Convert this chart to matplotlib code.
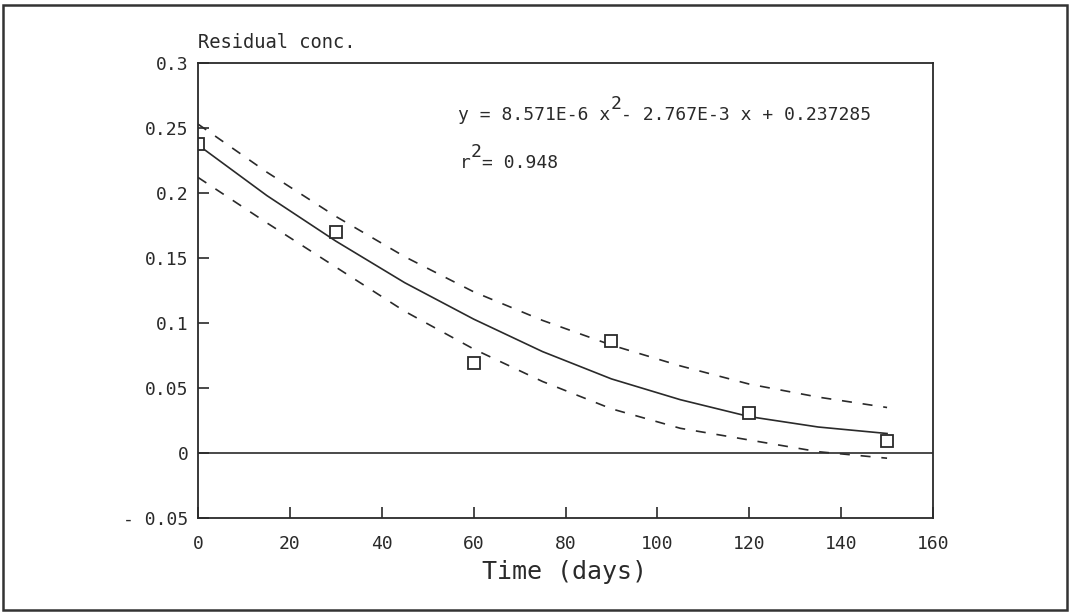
import matplotlib
matplotlib.use("Agg")
import matplotlib.pyplot as plt
from matplotlib.patches import Rectangle

plt.rcParams['font.family'] = ['DejaVu Sans Mono', 'DejaVu Sans']

# measured residual concentration
days = [0, 30, 60, 90, 120, 150]
conc = [0.238, 0.170, 0.069, 0.086, 0.031, 0.009]

# fitted curve and confidence band
fit_x = [0, 15, 30, 45, 60, 75, 90, 105, 120, 135, 150]
fit_y = [0.237, 0.198, 0.163, 0.131, 0.103, 0.078, 0.057, 0.041, 0.028, 0.020, 0.015]
upper_y = [0.253, 0.216, 0.182, 0.151, 0.124, 0.102, 0.083, 0.067, 0.053, 0.043, 0.035]
lower_y = [0.212, 0.177, 0.143, 0.109, 0.080, 0.055, 0.034, 0.019, 0.010, 0.001, -0.004]

xticks = [0, 20, 40, 60, 80, 100, 120, 140, 160]
xtick_labels = ["0", "20", "40", "60", "80", "100", "120", "140", "160"]
yticks = [-0.05, 0, 0.05, 0.1, 0.15, 0.2, 0.25, 0.3]
ytick_labels = ["- 0.05", "0", "0.05", "0.1", "0.15", "0.2", "0.25", "0.3"]

# equation pieces: (text before superscript, superscript, text after)
eq_parts = ["y = 8.571E-6 x", "2", "- 2.767E-3 x + 0.237285"]
r2_parts = ["r", "2", "= 0.948"]

ink = '#2a2a2a'
W, H = 1072, 613

fig = plt.figure(figsize=(W / 100, H / 100), dpi=100)
ax = fig.add_axes([198 / W, 1 - 518 / H, 735 / W, 455 / H])

ax.plot(fit_x, fit_y, color=ink, lw=1.2)
ax.plot(fit_x, upper_y, color=ink, lw=1.2, dashes=(6, 6.5))
ax.plot(fit_x, lower_y, color=ink, lw=1.2, dashes=(6, 6.5))
ax.plot(days, conc, linestyle='none', marker='s', ms=9, mfc='white',
        mec=ink, mew=1.3)
ax.axhline(0, color=ink, lw=1.2)

ax.set_xlim(0, 160)
ax.set_ylim(-0.05, 0.3)
ax.set_xticks(xticks)
ax.set_xticklabels(xtick_labels)
ax.set_yticks(yticks)
ax.set_yticklabels(ytick_labels)
ax.tick_params(direction='in', length=8, width=1.2, labelsize=13,
               colors=ink, top=False, right=False)
ax.tick_params(axis='x', pad=12)
ax.tick_params(axis='y', pad=7)
for s in ax.spines.values():
    s.set_linewidth(1.3)
    s.set_color(ink)

fig.text(564 / W, 1 - 572 / H, 'Time (days)', fontsize=18,
         color=ink, ha='center', va='center')
fig.text(198 / W, 1 - 43 / H, 'Residual conc.', fontsize=13.5,
         color=ink, ha='left', va='center')


def sup_text(x0, yc, parts, fs=13):
    # monospaced font: every character has the same advance width
    cw = 0.602 * fs * 100 / 72
    before, sup, after = parts
    fig.text(x0 / W, 1 - yc / H, before, fontsize=fs, color=ink, va='center')
    x1 = x0 + len(before) * cw
    fig.text(x1 / W, 1 - (yc - 11) / H, sup, fontsize=fs, color=ink,
             va='center')
    x2 = x1 + len(sup) * cw
    fig.text(x2 / W, 1 - yc / H, after, fontsize=fs, color=ink, va='center')


sup_text(458, 115, eq_parts)
sup_text(460, 163, r2_parts)

fig.patches.append(Rectangle((3 / W, 3 / H), 1064 / W, 605 / H,
                             transform=fig.transFigure, fill=False,
                             edgecolor='#333333', lw=1.8))

fig.savefig('out.png', dpi=100)
